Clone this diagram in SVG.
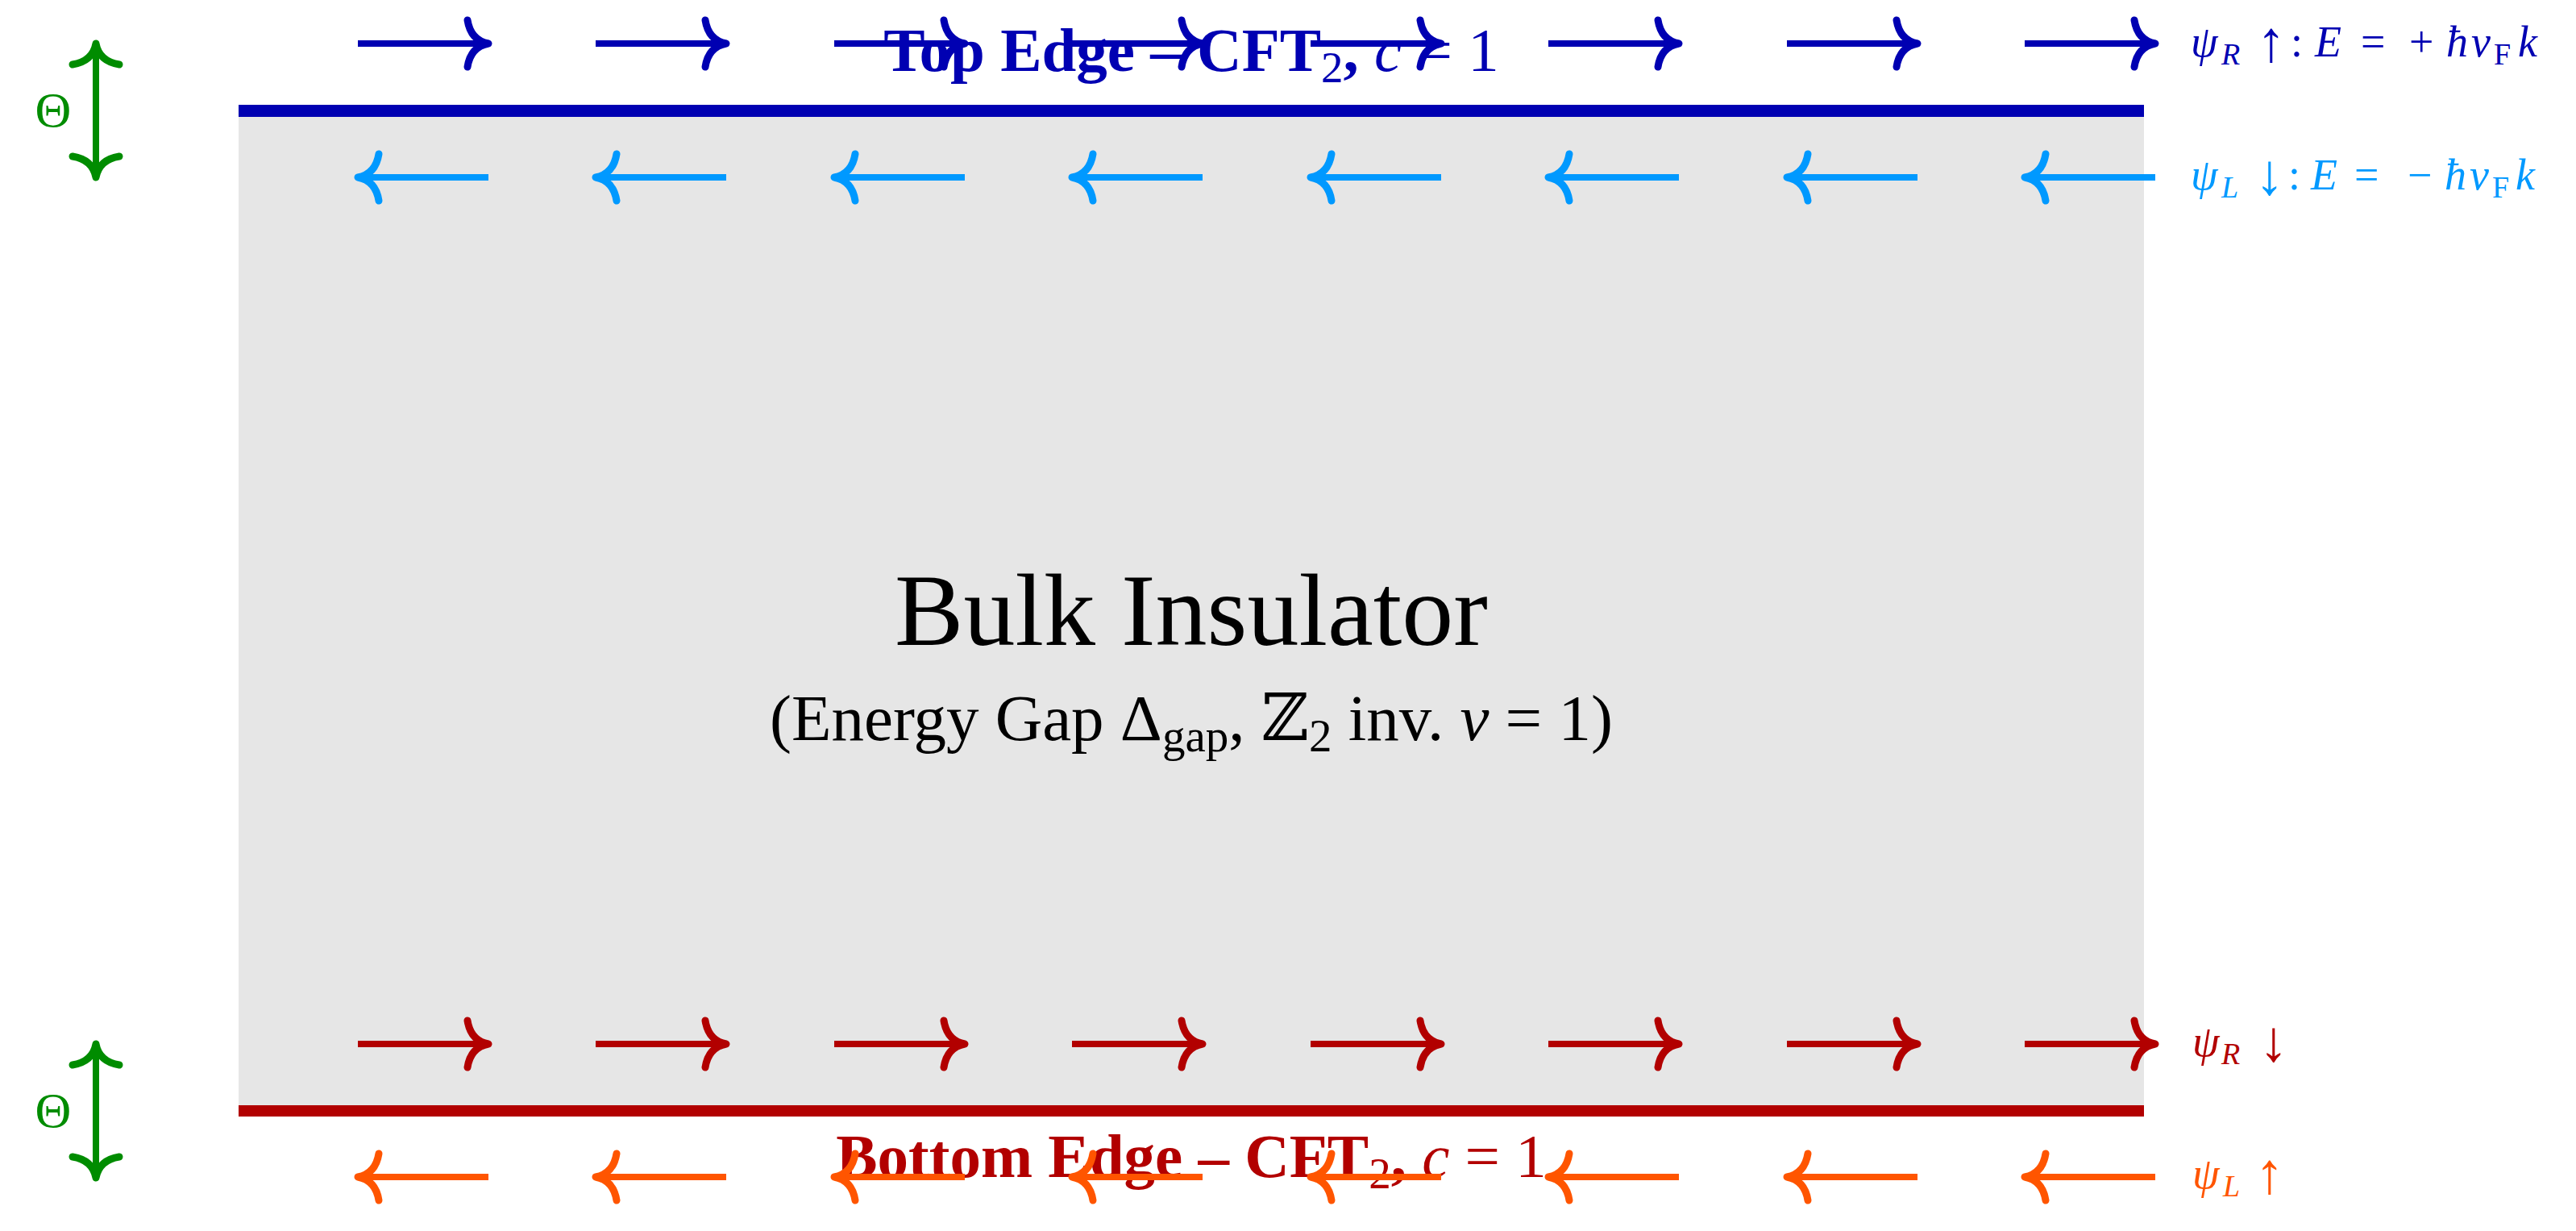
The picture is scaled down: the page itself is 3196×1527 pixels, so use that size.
<svg xmlns="http://www.w3.org/2000/svg" width="3196" height="1527" viewBox="0 0 3196 1527">
<style>
.t{font-family:"Liberation Serif","DejaVu Serif",serif;}
.i{font-style:italic;}
.ar{stroke-width:8;fill:none;stroke-linecap:butt;}
.hd{stroke-width:9;fill:none;stroke-linecap:round;stroke-linejoin:round;}
.lb{font-size:54px;}
.sb{font-size:38px;}
.aw{font-size:72px;}
</style>
<defs>
<marker id="mB" markerUnits="userSpaceOnUse" orient="auto-start-reverse" markerWidth="60" markerHeight="80" viewBox="-40 -40 60 80" refX="0" refY="0" overflow="visible"><path class="hd" stroke="#0000b2" d="M-26,-29 Q-22,-4 0,0 Q-22,4 -26,29"/></marker>
<marker id="mL" markerUnits="userSpaceOnUse" orient="auto-start-reverse" markerWidth="60" markerHeight="80" viewBox="-40 -40 60 80" refX="0" refY="0" overflow="visible"><path class="hd" stroke="#0099ff" d="M-26,-29 Q-22,-4 0,0 Q-22,4 -26,29"/></marker>
<marker id="mR" markerUnits="userSpaceOnUse" orient="auto-start-reverse" markerWidth="60" markerHeight="80" viewBox="-40 -40 60 80" refX="0" refY="0" overflow="visible"><path class="hd" stroke="#b20000" d="M-26,-29 Q-22,-4 0,0 Q-22,4 -26,29"/></marker>
<marker id="mO" markerUnits="userSpaceOnUse" orient="auto-start-reverse" markerWidth="60" markerHeight="80" viewBox="-40 -40 60 80" refX="0" refY="0" overflow="visible"><path class="hd" stroke="#ff5500" d="M-26,-29 Q-22,-4 0,0 Q-22,4 -26,29"/></marker>
<marker id="mG" markerUnits="userSpaceOnUse" orient="auto-start-reverse" markerWidth="60" markerHeight="80" viewBox="-40 -40 60 80" refX="0" refY="0" overflow="visible"><path class="hd" stroke="#008c00" d="M-26,-29 Q-22,-4 0,0 Q-22,4 -26,29"/></marker>
</defs>
<rect width="3196" height="1527" fill="#ffffff"/>

<g id="bulk">
<rect x="296" y="145" width="2364" height="1226" fill="#e6e6e6"/>
<text class="t" x="1478" y="800" font-size="128" text-anchor="middle" fill="#000">Bulk Insulator</text>
<text class="t" x="1478" y="918" font-size="81" text-anchor="middle" fill="#000">(Energy Gap Δ<tspan font-size="57" dy="14">gap</tspan><tspan dy="-14">, ℤ</tspan><tspan font-size="57" dy="14">2</tspan><tspan dy="-14"> inv. </tspan><tspan class="i">ν</tspan> = 1)</text>
</g>

<g id="top-edge">
<rect x="296" y="130" width="2364" height="15" fill="#0000b2"/>
<text class="t" x="1478" y="88" font-size="77" text-anchor="middle" fill="#0000b2"><tspan font-weight="bold">Top Edge – CFT</tspan><tspan font-size="55" dy="14">2</tspan><tspan dy="-14" font-weight="bold">, </tspan><tspan class="i">c</tspan> = 1</text>
</g>

<g id="bottom-edge">
<rect x="296" y="1371" width="2364" height="14" fill="#b20000"/>
<text class="t" x="1478" y="1460" font-size="77" text-anchor="middle" fill="#b20000"><tspan font-weight="bold">Bottom Edge – CFT</tspan><tspan font-size="55" dy="14">2</tspan><tspan dy="-14" font-weight="bold">, </tspan><tspan class="i">c</tspan> = 1</text>
</g>

<g id="theta-top">
<text class="t" x="66" y="157" font-size="62" text-anchor="middle" fill="#008c00">Θ</text>
</g>
<g id="theta-bottom">
<text class="t" x="66" y="1398" font-size="62" text-anchor="middle" fill="#008c00">Θ</text>
</g>

<g id="labels" class="t">
<text class="lb" y="70" fill="#0000b2"><tspan class="i" x="2718">ψ</tspan><tspan class="i sb" x="2756" dy="10">R</tspan><tspan class="aw" x="2800" dy="-4">↑</tspan><tspan x="2842" dy="-6">:</tspan><tspan class="i" x="2872">E</tspan><tspan x="2929">=</tspan><tspan x="2989">+</tspan><tspan class="i" x="3035">ħ</tspan><tspan class="i" x="3066">v</tspan><tspan class="sb" x="3094" dy="10">F</tspan><tspan class="i" x="3124" dy="-10">k</tspan></text>
<text class="lb" y="235" fill="#0099ff"><tspan class="i" x="2718">ψ</tspan><tspan class="i sb" x="2756" dy="10">L</tspan><tspan class="aw" x="2798" dy="-4">↓</tspan><tspan x="2839" dy="-6">:</tspan><tspan class="i" x="2867">E</tspan><tspan x="2921">=</tspan><tspan x="2987">−</tspan><tspan class="i" x="3033">ħ</tspan><tspan class="i" x="3064">v</tspan><tspan class="sb" x="3092" dy="10">F</tspan><tspan class="i" x="3121" dy="-10">k</tspan></text>
<text class="lb" y="1310" fill="#b20000"><tspan class="i" x="2720">ψ</tspan><tspan class="i sb" x="2756" dy="10">R</tspan><tspan class="aw" x="2803" dy="-4">↓</tspan></text>
<text class="lb" y="1474" fill="#ff5500"><tspan class="i" x="2720">ψ</tspan><tspan class="i sb" x="2758" dy="10">L</tspan><tspan class="aw" x="2798" dy="-4">↑</tspan></text>
</g>

<g id="connectors">
<g stroke="#0000b2" class="ar" marker-end="url(#mB)">
<line x1="444" y1="54" x2="606" y2="54"/><line x1="739" y1="54" x2="901" y2="54"/><line x1="1035" y1="54" x2="1197" y2="54"/><line x1="1330" y1="54" x2="1492" y2="54"/><line x1="1626" y1="54" x2="1788" y2="54"/><line x1="1921" y1="54" x2="2083" y2="54"/><line x1="2217" y1="54" x2="2379" y2="54"/><line x1="2512" y1="54" x2="2674" y2="54"/>
</g>
<g stroke="#0099ff" class="ar" marker-end="url(#mL)">
<line x1="606" y1="220" x2="444" y2="220"/><line x1="901" y1="220" x2="739" y2="220"/><line x1="1197" y1="220" x2="1035" y2="220"/><line x1="1492" y1="220" x2="1330" y2="220"/><line x1="1788" y1="220" x2="1626" y2="220"/><line x1="2083" y1="220" x2="1921" y2="220"/><line x1="2379" y1="220" x2="2217" y2="220"/><line x1="2674" y1="220" x2="2512" y2="220"/>
</g>
<g stroke="#b20000" class="ar" marker-end="url(#mR)">
<line x1="444" y1="1295" x2="606" y2="1295"/><line x1="739" y1="1295" x2="901" y2="1295"/><line x1="1035" y1="1295" x2="1197" y2="1295"/><line x1="1330" y1="1295" x2="1492" y2="1295"/><line x1="1626" y1="1295" x2="1788" y2="1295"/><line x1="1921" y1="1295" x2="2083" y2="1295"/><line x1="2217" y1="1295" x2="2379" y2="1295"/><line x1="2512" y1="1295" x2="2674" y2="1295"/>
</g>
<g stroke="#ff5500" class="ar" marker-end="url(#mO)">
<line x1="606" y1="1460" x2="444" y2="1460"/><line x1="901" y1="1460" x2="739" y2="1460"/><line x1="1197" y1="1460" x2="1035" y2="1460"/><line x1="1492" y1="1460" x2="1330" y2="1460"/><line x1="1788" y1="1460" x2="1626" y2="1460"/><line x1="2083" y1="1460" x2="1921" y2="1460"/><line x1="2379" y1="1460" x2="2217" y2="1460"/><line x1="2674" y1="1460" x2="2512" y2="1460"/>
</g>
<g stroke="#008c00" class="ar" marker-start="url(#mG)" marker-end="url(#mG)">
<line x1="119" y1="54" x2="119" y2="220"/>
<line x1="119" y1="1295" x2="119" y2="1461"/>
</g>
</g>
</svg>
